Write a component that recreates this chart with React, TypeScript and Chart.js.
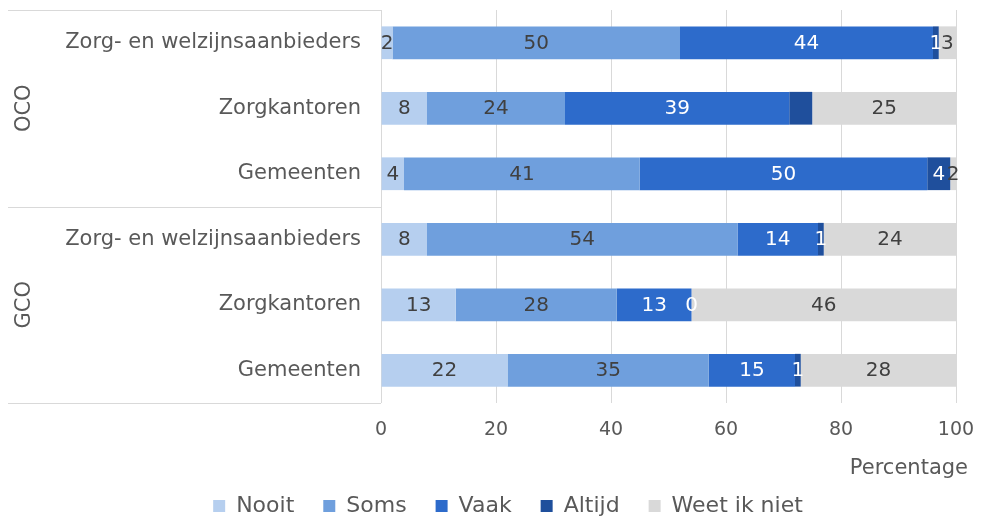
import React, { useEffect, useRef } from 'react';
import { Chart, registerables } from 'chart.js';

Chart.register(...registerables);

const categories = [
  'Zorg- en welzijnsaanbieders',
  'Zorgkantoren',
  'Gemeenten',
  'Zorg- en welzijnsaanbieders',
  'Zorgkantoren',
  'Gemeenten',
];
const groupLabels = ['OCO', 'GCO'];
const groupSize = 3;
const seriesNames = ['Nooit', 'Soms', 'Vaak', 'Altijd', 'Weet ik niet'];
const nooit = [2, 8, 4, 8, 13, 22];
const soms = [50, 24, 41, 54, 28, 35];
const vaak = [44, 39, 50, 14, 13, 15];
const altijd = [1, 4, 4, 1, 0, 1];
const weetIkNiet = [3, 25, 2, 24, 46, 28];
const altijdLabelShown = [true, false, true, true, true, true];
const xTicks = [0, 20, 40, 60, 80, 100];
const xTitle = 'Percentage';

const FONT = "'DejaVu Sans', Verdana, sans-serif";
const colors = ['#b6cfef', '#6f9fdd', '#2d6bcb', '#1f4f9c', '#d9d9d9'];
const labelColors = ['#404040', '#404040', '#ffffff', '#ffffff', '#404040'];
const TEXT = '#595959';
const LINE = '#d9d9d9';
const PAD_LEFT = 60;
const BOX_LEFT = 8;
const PLOT_LEFT = 381;

const valueLabelsPlugin = {
  id: 'valueLabels',
  afterDatasetsDraw(chart: any) {
    const ctx = chart.ctx;
    const area = chart.chartArea;
    ctx.save();
    ctx.font = `20px ${FONT}`;
    ctx.textAlign = 'center';
    ctx.textBaseline = 'middle';
    chart.data.datasets.forEach((ds: any, di: number) => {
      const meta = chart.getDatasetMeta(di);
      meta.data.forEach((el: any, i: number) => {
        if (di === 3 && !altijdLabelShown[i]) return;
        const start = Math.min(el.base, area.right);
        const end = Math.min(el.x, area.right);
        const cx = (start + end) / 2;
        ctx.fillStyle = labelColors[di];
        ctx.fillText(String(ds.data[i]), cx, el.y + 1);
      });
    });
    ctx.restore();
  },
};

const groupBoxPlugin = {
  id: 'groupBox',
  afterDraw(chart: any) {
    const ctx = chart.ctx;
    const area = chart.chartArea;
    const y = chart.scales.y;
    ctx.save();
    ctx.strokeStyle = LINE;
    ctx.lineWidth = 1;
    const rowH = (area.bottom - area.top) / categories.length;
    for (let g = 0; g <= groupLabels.length; g++) {
      const yy = Math.round(area.top + g * groupSize * rowH) + 0.5;
      ctx.beginPath();
      ctx.moveTo(BOX_LEFT, yy);
      ctx.lineTo(area.left, yy);
      ctx.stroke();
    }
    ctx.fillStyle = TEXT;
    ctx.font = `21px ${FONT}`;
    ctx.textAlign = 'center';
    ctx.textBaseline = 'middle';
    groupLabels.forEach((g, gi) => {
      const a = y.getPixelForValue(gi * groupSize);
      const b = y.getPixelForValue(gi * groupSize + groupSize - 1);
      ctx.save();
      ctx.translate(25, (a + b) / 2);
      ctx.rotate(-Math.PI / 2);
      ctx.fillText(g, 0, 0);
      ctx.restore();
    });
    ctx.font = `21px ${FONT}`;
    ctx.textAlign = 'right';
    ctx.fillText(xTitle, area.right + 12, 469);
    ctx.restore();
  },
};

export default function App() {
  const ref = useRef<HTMLCanvasElement | null>(null);
  useEffect(() => {
    if (!ref.current) return;
    const series = [nooit, soms, vaak, altijd, weetIkNiet];
    const chart = new Chart(ref.current, {
      type: 'bar',
      data: {
        labels: categories,
        datasets: series.map((d, i) => ({
          label: seriesNames[i],
          data: d,
          backgroundColor: colors[i],
          borderWidth: 0,
          categoryPercentage: 1,
          barPercentage: 0.5,
        })),
      },
      options: {
        indexAxis: 'y',
        responsive: false,
        animation: false,
        devicePixelRatio: 1,
        layout: { padding: { left: PAD_LEFT, right: 25, top: 10, bottom: 0 } },
        plugins: {
          tooltip: { enabled: false },
          legend: {
            position: 'bottom',
            labels: {
              font: { family: FONT, size: 22 },
              color: TEXT,
              boxWidth: 12,
              boxHeight: 12,
              padding: 29,
            },
          },
        },
        scales: {
          x: {
            stacked: true,
            min: xTicks[0],
            max: xTicks[xTicks.length - 1],
            ticks: {
              stepSize: xTicks[1] - xTicks[0],
              font: { family: FONT, size: 19 },
              color: TEXT,
              padding: 16,
            },
            grid: { color: LINE, drawTicks: false },
            border: { display: false },
            afterFit: (scale: any) => {
              scale.height = 63;
              scale.paddingLeft = 0;
              scale.paddingRight = 0;
            },
          },
          y: {
            stacked: true,
            ticks: {
              font: { family: FONT, size: 21 },
              color: TEXT,
              padding: 20,
            },
            grid: { display: false, drawTicks: false },
            border: { display: false },
            afterFit: (scale: any) => {
              scale.width = PLOT_LEFT - PAD_LEFT;
              scale.paddingTop = 0;
              scale.paddingBottom = 0;
            },
          },
        },
      } as any,
      plugins: [valueLabelsPlugin, groupBoxPlugin],
    });
    return () => chart.destroy();
  }, []);
  return (
    <div
      style={{
        position: 'fixed',
        left: 0,
        top: 0,
        width: 981,
        height: 522,
        overflow: 'hidden',
        background: '#ffffff',
      }}
    >
      <canvas ref={ref} width={981} height={527} style={{ display: 'block' }} />
    </div>
  );
}
